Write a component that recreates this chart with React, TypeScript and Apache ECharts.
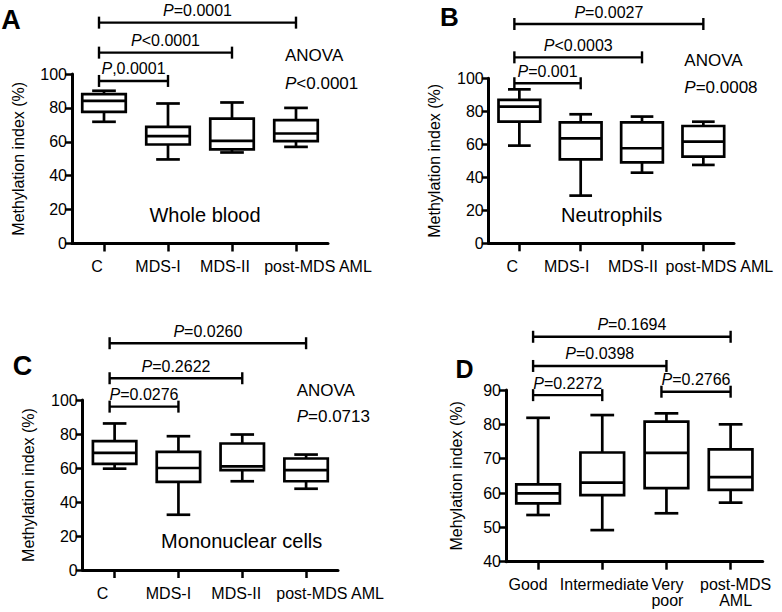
import React, { useEffect, useRef } from "react";
import * as echarts from "echarts";

const FONT = "'Liberation Sans', Arial, Helvetica, sans-serif";

// categories
const groupsABC = ["C", "MDS-I", "MDS-II", "post-MDS AML"];
const groupsD = ["Good", "Intermediate", "Very\npoor", "post-MDS\nAML"];

// box values: [min, Q1, median, Q3, max]
const wholeBlood = [
  [71.8, 77.7, 84.2, 88.1, 90.1],
  [49.6, 58.4, 63.3, 68.8, 82.6],
  [53.7, 55.5, 60.6, 73.7, 83.2],
  [57.0, 60.4, 64.9, 72.8, 80.0],
];
const neutrophils = [
  [59.2, 73.7, 82.8, 86.9, 93.3],
  [28.9, 50.9, 63.6, 73.3, 78.2],
  [42.8, 49.1, 57.6, 73.3, 76.8],
  [47.5, 52.5, 61.6, 71.1, 73.7],
];
const mononuclear = [
  [59.6, 62.4, 68.9, 75.8, 86.2],
  [32.5, 51.8, 60.0, 69.5, 78.7],
  [52.2, 58.7, 61.0, 74.4, 79.7],
  [47.8, 52.2, 58.7, 65.6, 67.9],
];
const prognosis = [
  [53.6, 57.0, 59.9, 62.5, 81.9],
  [49.2, 59.4, 63.0, 71.8, 82.7],
  [54.1, 61.4, 71.7, 80.8, 83.2],
  [57.2, 60.9, 64.6, 72.7, 80.0],
];

// comparison brackets: [fromIndex, toIndex, height in axis units]
const bracketsA = [[0, 3, 130.3], [0, 2, 112.6], [0, 1, 95.9]];
const bracketLabelsA = ["P=0.0001", "P<0.0001", "P,0.0001"];
const bracketsB = [[0, 3, 132.9], [0, 2, 112.7], [0, 1, 97.0]];
const bracketLabelsB = ["P=0.0027", "P<0.0003", "P=0.001"];
const bracketsC = [[0, 3, 133.4], [0, 2, 112.8], [0, 1, 96.1]];
const bracketLabelsC = ["P=0.0260", "P=0.2622", "P=0.0276"];
const bracketsD = [[0, 3, 105.5], [0, 2, 97.0], [0, 1, 88.5], [2, 3, 89.5]];
const bracketLabelsD = ["P=0.1694", "P=0.0398", "P=0.2272", "P=0.2766"];

// y axis ticks: [min, max, interval]
const yTicksABC = [0, 100, 20];
const yTicksD = [40, 90, 10];

const anovaLabels = ["P<0.0001", "P=0.0008", "P=0.0713"];
const panelTitles = ["Whole blood", "Neutrophils", "Mononuclear cells"];
const panelLetters = ["A", "B", "C", "D"];
const yNames = [
  "Methylation index (%)",
  "Methylation index (%)",
  "Methylation index (%)",
  "Mehylation index (%)",
];

const italicP = (s: string) => "{i|" + s.slice(0, 1) + "}" + s.slice(1);

const richItalic = (size: number) => ({
  i: { fontStyle: "italic", fontSize: size, fontFamily: FONT, fill: "#000", color: "#000" },
});

function renderBox(params: any, api: any) {
  const idx = api.value(0);
  const band = api.size([1, 0])[0];
  const bw = band * 0.68;
  const cw = band * 0.37;
  const x = api.coord([idx, api.value(1)])[0];
  const yMin = api.coord([idx, api.value(1)])[1];
  const yQ1 = api.coord([idx, api.value(2)])[1];
  const yMed = api.coord([idx, api.value(3)])[1];
  const yQ3 = api.coord([idx, api.value(4)])[1];
  const yMax = api.coord([idx, api.value(5)])[1];
  const st = { stroke: "#000", lineWidth: 2.7, fill: "none" };
  return {
    type: "group",
    children: [
      { type: "line", shape: { x1: x, y1: yMax, x2: x, y2: yQ3 }, style: st },
      { type: "line", shape: { x1: x, y1: yQ1, x2: x, y2: yMin }, style: st },
      { type: "line", shape: { x1: x - cw / 2, y1: yMax, x2: x + cw / 2, y2: yMax }, style: st },
      { type: "line", shape: { x1: x - cw / 2, y1: yMin, x2: x + cw / 2, y2: yMin }, style: st },
      {
        type: "rect",
        shape: { x: x - bw / 2, y: yQ3, width: bw, height: yQ1 - yQ3 },
        style: { stroke: "#000", lineWidth: 2.7, fill: "#fff" },
      },
      { type: "line", shape: { x1: x - bw / 2, y1: yMed, x2: x + bw / 2, y2: yMed }, style: st },
    ],
  };
}

const makeBracketRender = (labels: string[]) => (params: any, api: any) => {
  const from = api.value(0);
  const to = api.value(1);
  const h = api.value(2);
  const p0 = api.coord([from, h]);
  const p1 = api.coord([to, h]);
  const x0 = p0[0] - 5;
  const x1 = p1[0];
  const y = p0[1];
  const st = { stroke: "#000", lineWidth: 2.4 };
  const lab = labels[params.dataIndex];
  return {
    type: "group",
    children: [
      { type: "line", shape: { x1: x0, y1: y, x2: x1, y2: y }, style: st },
      { type: "line", shape: { x1: x0, y1: y - 6, x2: x0, y2: y + 6 }, style: st },
      { type: "line", shape: { x1: x1, y1: y - 6, x2: x1, y2: y + 6 }, style: st },
      {
        type: "text",
        x: (x0 + x1) / 2,
        y: y - 12,
        style: {
          text: italicP(lab),
          textAlign: "center",
          textVerticalAlign: "middle",
          align: "center",
          verticalAlign: "middle",
          fill: "#000",
          fontSize: 16,
          fontFamily: FONT,
          rich: richItalic(16),
        },
      },
    ],
  };
};

// horizontal nudges (px) of the category labels, as in the reference layout
const labelNudges = [
  [-7, -10, -7, 22],
  [-7, -14, -9, 16],
  [-12, -10, -6, 24],
  [-10, 2, 1, 5],
];

const padFor = (s: number) => (s >= 0 ? [0, 0, 0, 2 * s] : [0, -2 * s, 0, 0]);

export default function App() {
  const ref = useRef<HTMLDivElement>(null);

  useEffect(() => {
    if (!ref.current) return;
    const chart = echarts.init(ref.current, undefined, { renderer: "svg" });

    const grids = [
      { left: 72, top: 74, width: 256, height: 169.5 },
      { left: 488.7, top: 78.3, width: 245.3, height: 165 },
      { left: 82.7, top: 400, width: 255.3, height: 170 },
      { left: 506, top: 390, width: 256.7, height: 171.7 },
    ];
    const panels = [
      { cats: groupsABC, boxes: wholeBlood, br: bracketsA, brl: bracketLabelsA, ticks: yTicksABC, gap: 46 },
      { cats: groupsABC, boxes: neutrophils, br: bracketsB, brl: bracketLabelsB, ticks: yTicksABC, gap: 46 },
      { cats: groupsABC, boxes: mononuclear, br: bracketsC, brl: bracketLabelsC, ticks: yTicksABC, gap: 46 },
      { cats: groupsD, boxes: prognosis, br: bracketsD, brl: bracketLabelsD, ticks: yTicksD, gap: 42 },
    ];

    const axisLine = { show: true, lineStyle: { color: "#000", width: 3 } };
    const tickStyle = { color: "#000", width: 2.5 };
    const txt = { color: "#000", fontSize: 16, fontFamily: FONT };

    const xAxis = panels.map((p, i) => ({
      type: "category",
      gridIndex: i,
      data: p.cats.map((c, k) => ({ value: c, textStyle: { padding: padFor(labelNudges[i][k]) } })),
      boundaryGap: true,
      axisLine,
      axisTick: { show: true, alignWithLabel: true, length: 8, lineStyle: tickStyle },
      axisLabel: { ...txt, interval: 0, margin: 15, lineHeight: 16 },
      splitLine: { show: false },
    }));
    const yAxis = panels.map((p, i) => ({
      type: "value",
      gridIndex: i,
      min: p.ticks[0],
      max: p.ticks[1],
      interval: p.ticks[2],
      name: yNames[i],
      nameLocation: "middle",
      nameGap: p.gap,
      nameTextStyle: { ...txt },
      axisLine,
      axisTick: { show: true, length: 7, lineStyle: tickStyle },
      axisLabel: { ...txt, margin: 5 },
      splitLine: { show: false },
    }));

    const series: any[] = [];
    panels.forEach((p, i) => {
      series.push({
        type: "custom",
        xAxisIndex: i,
        yAxisIndex: i,
        silent: true,
        renderItem: renderBox,
        data: p.boxes.map((b, k) => [k, ...b]),
        encode: { x: 0, y: [1, 2, 3, 4, 5] },
      });
      series.push({
        type: "custom",
        xAxisIndex: i,
        yAxisIndex: i,
        silent: true,
        clip: false,
        renderItem: makeBracketRender(p.brl),
        data: p.br,
        encode: { x: [0, 1], y: 2 },
      });
    });

    const letterPos = [
      [11, 20, 27],
      [449.5, 17, 26],
      [22.5, 366, 27],
      [464.5, 369, 25],
    ];
    const anovaPos = [
      [285, 55, 83],
      [684.3, 60, 87.7],
      [296.7, 390, 416.7],
    ];
    const titlePos = [
      [205, 215],
      [611.7, 215],
      [241.7, 540.7],
    ];

    const graphic: any[] = [];
    panelLetters.forEach((l, i) => {
      graphic.push({
        type: "text",
        x: letterPos[i][0],
        y: letterPos[i][1],
        silent: true,
        style: {
          text: l,
          textAlign: "center",
          textVerticalAlign: "middle",
          fill: "#000",
          fontSize: letterPos[i][2],
          fontWeight: "bold",
          fontFamily: FONT,
        },
      });
    });
    anovaLabels.forEach((a, i) => {
      graphic.push({
        type: "text",
        x: anovaPos[i][0],
        y: anovaPos[i][1],
        silent: true,
        style: { text: "ANOVA", textAlign: "left", textVerticalAlign: "middle", fill: "#000", fontSize: 17, fontFamily: FONT },
      });
      graphic.push({
        type: "text",
        x: anovaPos[i][0],
        y: anovaPos[i][2],
        silent: true,
        style: {
          text: italicP(a),
          textAlign: "left",
          textVerticalAlign: "middle",
          fill: "#000",
          fontSize: 17,
          fontFamily: FONT,
          rich: richItalic(17),
        },
      });
    });
    panelTitles.forEach((t, i) => {
      graphic.push({
        type: "text",
        x: titlePos[i][0],
        y: titlePos[i][1],
        silent: true,
        style: { text: t, textAlign: "center", textVerticalAlign: "middle", fill: "#000", fontSize: 20, fontFamily: FONT },
      });
    });

    chart.setOption({
      animation: false,
      backgroundColor: "#fff",
      grid: grids.map((g) => ({ ...g, containLabel: false, outerBoundsMode: "none" })),
      xAxis,
      yAxis,
      series,
      graphic,
    });

    return () => chart.dispose();
  }, []);

  return (
    <div
      ref={ref}
      style={{ position: "absolute", left: 0, top: 0, width: 782, height: 612, background: "#fff" }}
    />
  );
}
